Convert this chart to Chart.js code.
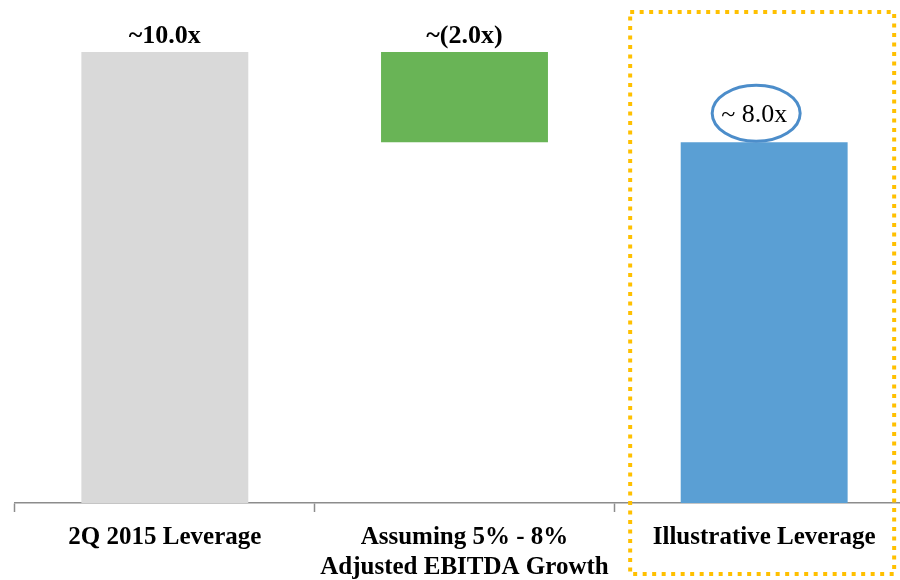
<!DOCTYPE html>
<html>
<head>
<meta charset="utf-8">
<script src="https://cdn.jsdelivr.net/npm/chart.js@4.4.1/dist/chart.umd.min.js"></script>
<style>
    html, body { margin: 0; padding: 0; background: #fff; overflow: hidden; }
    #wrap { position: relative; width: 920px; height: 580px; }
</style>
</head>
<body>
<div id="wrap"><canvas id="graficoCascata"></canvas></div>
<script>
// categorias e valores da cascata (alavancagem, em x EBITDA)
const categorias = [
    ['2Q 2015 Leverage'],
    ['Assuming 5% - 8%', 'Adjusted EBITDA Growth'],
    ['Illustrative Leverage']
];
const inicioBarra = [0, 8, 0];
const fimBarra = [10, 10, 8];
const rotulos = ['~10.0x', '~(2.0x)', '~ 8.0x'];
const cores = ['#D9D9D9', '#69B456', '#5A9FD4'];
const indiceDestaque = 2;

const fonteSerif = "'Liberation Serif', 'Times New Roman', serif";

// rótulos acima das barras, com elipse no valor final
const pluginRotulos = {
    id: 'rotulos',
    afterDatasetsDraw(chart) {
        const ctx = chart.ctx;
        const barras = chart.getDatasetMeta(0).data;
        ctx.save();
        ctx.textAlign = 'center';
        ctx.textBaseline = 'alphabetic';
        ctx.fillStyle = '#000';
        barras.forEach((bar, i) => {
            if (i === indiceDestaque) {
                const base = bar.y - 20;
                ctx.font = '26px ' + fonteSerif;
                ctx.fillText(rotulos[i], bar.x - 10, base);
                ctx.beginPath();
                ctx.ellipse(bar.x - 8, base - 9, 44, 28, 0, 0, Math.PI * 2);
                ctx.strokeStyle = '#4C8DCA';
                ctx.lineWidth = 3;
                ctx.stroke();
            } else {
                ctx.font = 'bold 26px ' + fonteSerif;
                ctx.fillText(rotulos[i], bar.x, bar.y - 9);
            }
        });
        ctx.restore();
    }
};

// caixa pontilhada em volta da última categoria
const pluginCaixa = {
    id: 'caixa',
    afterDraw(chart) {
        const ctx = chart.ctx;
        const x = chart.scales.x.getPixelForValue(indiceDestaque);
        ctx.save();
        ctx.strokeStyle = '#FFC000';
        ctx.lineWidth = 4;
        ctx.setLineDash([4, 5.5]);
        ctx.strokeRect(x - 134, 12, 264, 562);
        ctx.restore();
    }
};

const ctx = document.getElementById('graficoCascata');
new Chart(ctx, {
    type: 'bar',
    data: {
        labels: categorias,
        datasets: [{
            data: inicioBarra.map((v, i) => [v, fimBarra[i]]),
            backgroundColor: cores,
            borderWidth: 0,
            barPercentage: 0.557,
            categoryPercentage: 1
        }]
    },
    options: {
        responsive: true,
        maintainAspectRatio: false,
        animation: false,
        layout: { padding: { left: 15, right: 6, top: 52, bottom: 0 } },
        scales: {
            x: {
                grid: {
                    offset: true,
                    drawOnChartArea: false,
                    tickLength: 9,
                    tickColor: '#8C8C8C',
                    tickWidth: 1.5
                },
                border: { color: '#8C8C8C', width: 1.5 },
                ticks: {
                    color: '#000',
                    padding: 11,
                    maxRotation: 0,
                    font: { family: fonteSerif, size: 25, weight: 'bold', lineHeight: '30px' }
                },
                afterFit(scale) { scale.height = 77; }
            },
            y: {
                display: false,
                min: 0,
                max: 10
            }
        },
        plugins: {
            legend: { display: false },
            tooltip: { enabled: false }
        }
    },
    plugins: [pluginRotulos, pluginCaixa]
});
</script>
</body>
</html>
